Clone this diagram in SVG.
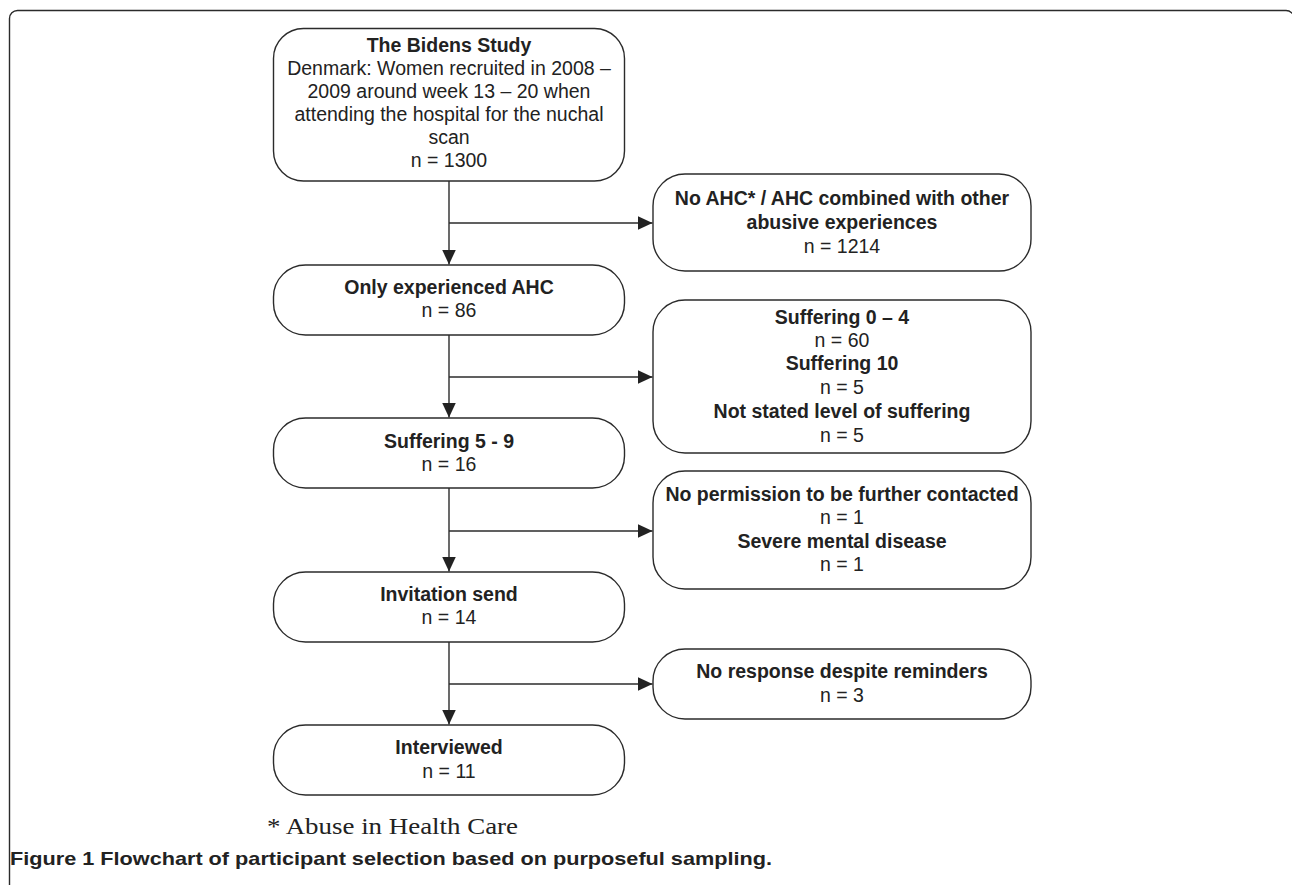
<svg xmlns="http://www.w3.org/2000/svg" width="1292" height="885" viewBox="0 0 1292 885">
<style>
.box{fill:#fff;stroke:#2b2b2b;stroke-width:1.4}
.t{font-family:"Liberation Sans",Arial,Helvetica,sans-serif;font-size:19.5px;fill:#222;text-anchor:middle}
.b{font-weight:bold}
.ln{stroke:#2b2b2b;stroke-width:1.4;fill:none}
</style>
<defs>
<marker id="ah" markerWidth="15" markerHeight="14" refX="15" refY="7" orient="auto" markerUnits="userSpaceOnUse">
<path d="M0,0 L15,7 L0,14 Z" fill="#222"/>
</marker>
</defs>
<rect x="0" y="0" width="1292" height="885" fill="#fff"/>
<rect x="9.5" y="10.5" width="1284.5" height="900" rx="8" fill="none" stroke="#2b2b2b" stroke-width="1.4"/>

<g id="connectors">
<path class="ln" d="M449,181 V264.5" marker-end="url(#ah)"/>
<path class="ln" d="M449,223 H652.5" marker-end="url(#ah)"/>
<path class="ln" d="M449,335 V417.5" marker-end="url(#ah)"/>
<path class="ln" d="M449,377 H652.5" marker-end="url(#ah)"/>
<path class="ln" d="M449,488 V571.5" marker-end="url(#ah)"/>
<path class="ln" d="M449,531 H652.5" marker-end="url(#ah)"/>
<path class="ln" d="M449,642 V724.5" marker-end="url(#ah)"/>
<path class="ln" d="M449,684 H652.5" marker-end="url(#ah)"/>
</g>

<g id="n1">
<rect class="box" x="273.5" y="28.5" width="351" height="152.5" rx="30"/>
<text class="t b" x="449" y="52">The Bidens Study</text>
<text class="t" x="449" y="75">Denmark: Women recruited in 2008 –</text>
<text class="t" x="449" y="98">2009 around week 13 – 20 when</text>
<text class="t" x="449" y="121">attending the hospital for the nuchal</text>
<text class="t" x="449" y="144">scan</text>
<text class="t" x="449" y="167">n = 1300</text>
</g>

<g id="n2">
<rect class="box" x="273.5" y="265" width="351" height="70" rx="32"/>
<text class="t b" x="449" y="294">Only experienced AHC</text>
<text class="t" x="449" y="317">n = 86</text>
</g>

<g id="n3">
<rect class="box" x="273.5" y="418" width="351" height="70" rx="32"/>
<text class="t b" x="449" y="448">Suffering 5 - 9</text>
<text class="t" x="449" y="471">n = 16</text>
</g>

<g id="n4">
<rect class="box" x="273.5" y="572" width="351" height="70" rx="32"/>
<text class="t b" x="449" y="601">Invitation send</text>
<text class="t" x="449" y="624">n = 14</text>
</g>

<g id="n5">
<rect class="box" x="273.5" y="725" width="351" height="70" rx="32"/>
<text class="t b" x="449" y="754">Interviewed</text>
<text class="t" x="449" y="778">n = 11</text>
</g>

<g id="r1">
<rect class="box" x="653" y="174" width="378" height="97" rx="32"/>
<text class="t b" x="842" y="205">No AHC* / AHC combined with other</text>
<text class="t b" x="842" y="229">abusive experiences</text>
<text class="t" x="842" y="253">n = 1214</text>
</g>

<g id="r2">
<rect class="box" x="653" y="300" width="378" height="153" rx="32"/>
<text class="t b" x="842" y="324">Suffering 0 – 4</text>
<text class="t" x="842" y="347">n = 60</text>
<text class="t b" x="842" y="370">Suffering 10</text>
<text class="t" x="842" y="394">n = 5</text>
<text class="t b" x="842" y="418">Not stated level of suffering</text>
<text class="t" x="842" y="442">n = 5</text>
</g>

<g id="r3">
<rect class="box" x="653" y="471" width="378" height="118" rx="32"/>
<text class="t b" x="842" y="501">No permission to be further contacted</text>
<text class="t" x="842" y="524">n = 1</text>
<text class="t b" x="842" y="548">Severe mental disease</text>
<text class="t" x="842" y="571">n = 1</text>
</g>

<g id="r4">
<rect class="box" x="653" y="649" width="378" height="70" rx="32"/>
<text class="t b" x="842" y="678">No response despite reminders</text>
<text class="t" x="842" y="702">n = 3</text>
</g>

<g id="notes">
<text x="267" y="834" font-family="'Liberation Serif','Times New Roman',serif" font-size="23" fill="#222" textLength="251" lengthAdjust="spacingAndGlyphs">* Abuse in Health Care</text>
<text x="10" y="865" font-family="'Liberation Sans',Arial,sans-serif" font-size="19" font-weight="bold" fill="#222" textLength="762" lengthAdjust="spacingAndGlyphs">Figure 1 Flowchart of participant selection based on purposeful sampling.</text>
</g>
</svg>
